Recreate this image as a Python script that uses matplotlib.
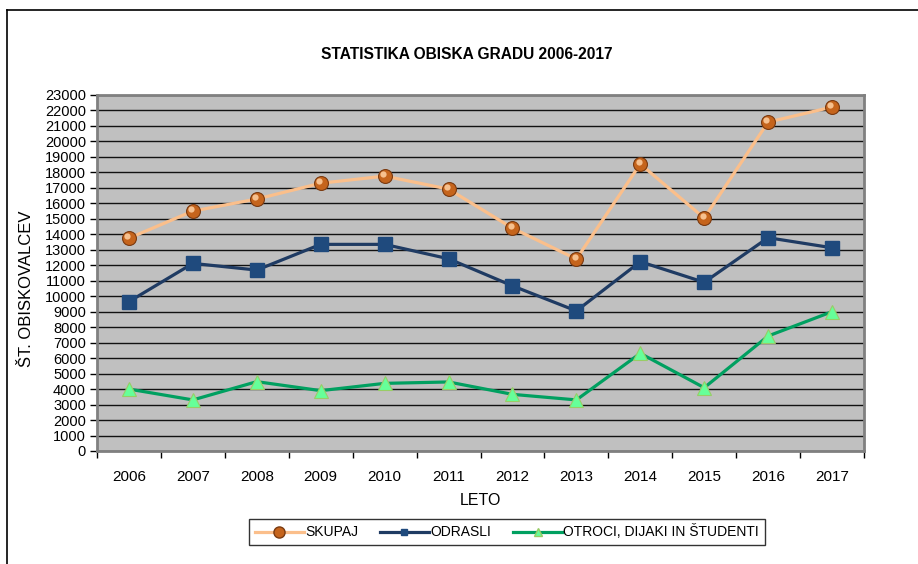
import numpy as np
import matplotlib.pyplot as plt
from matplotlib.lines import Line2D
from matplotlib.transforms import offset_copy

plt.rcParams["font.family"] = ["Liberation Sans", "DejaVu Sans"]

years = ["2006", "2007", "2008", "2009", "2010", "2011",
         "2012", "2013", "2014", "2015", "2016", "2017"]
skupaj = [13750, 15500, 16280, 17300, 17760, 16920,
          14400, 12400, 18540, 15050, 21250, 22220]
odrasli = [9650, 12120, 11690, 13350, 13350, 12420,
           10670, 9050, 12230, 10900, 13780, 13130]
otroci = [4000, 3300, 4480, 3900, 4370, 4460,
          3660, 3300, 6310, 4090, 7430, 9000]

fig = plt.figure(figsize=(9.18, 5.64), dpi=100)
ax = fig.add_axes([97 / 918, 1 - 451 / 564, (864 - 97) / 918, (451 - 95) / 564])
ax.set_facecolor("#c0c0c0")

x = np.arange(len(years))

# grid
ax.set_ylim(0, 23000)
ax.set_yticks(np.arange(0, 23001, 1000))
ax.yaxis.grid(True, color="#111111", lw=1.0)
ax.set_axisbelow(True)

# series
ax.plot(x, skupaj, color="#fbbf8b", lw=2.3, zorder=3)
ax.plot(x, skupaj, ls="none", marker="o", ms=10, mfc="#c5641c", mec="#7a3a10",
        mew=0.8, zorder=4)
hl = offset_copy(ax.transData, fig=fig, x=-1.2, y=1.5, units="points")
ax.plot(x, skupaj, ls="none", marker="o", ms=4.5, mfc="#f6c08e", mec="none",
        transform=hl, zorder=5)

ax.plot(x, odrasli, color="#1f3b63", lw=2.3, zorder=3)
ax.plot(x, odrasli, ls="none", marker="s", ms=10, mfc="#1f4a7d", mec="#1f4a7d",
        zorder=4)

ax.plot(x, otroci, color="#00a060", lw=2.3, zorder=3)
ax.plot(x, otroci, ls="none", marker="^", ms=10.5, mfc="#66ff99", mec="#99cc66",
        mew=0.8, zorder=4)

# axes
ax.set_xlim(-0.5, len(years) - 0.5)
ax.set_xticks(x)
ax.set_xticklabels(years)
ax.set_xticks(np.arange(-0.5, len(years)), minor=True)
ax.tick_params(axis="x", which="major", length=0, pad=14, labelsize=11)
ax.tick_params(axis="x", which="minor", length=5, width=1, color="black")
ax.tick_params(axis="y", length=5, width=1, color="black", pad=3, labelsize=10.5)
for s in ax.spines.values():
    s.set_color("#808080")
    s.set_linewidth(2)

ax.set_xlabel("LETO", fontsize=11.5, labelpad=6)
ax.set_ylabel("ŠT. OBISKOVALCEV", fontsize=12)
ax.yaxis.set_label_coords((34 - 97) / 767, (451 - 289) / 356)

fig.text(467 / 918, 1 - 55 / 564, "STATISTIKA OBISKA GRADU 2006-2017",
         ha="center", va="center", fontsize=11.2, fontweight="bold")

# legend
handles = [
    Line2D([], [], color="#fbbf8b", lw=2.3, marker="o", ms=8, mfc="#c5641c", mec="#7a3a10"),
    Line2D([], [], color="#1f3b63", lw=2.3, marker="s", ms=5, mfc="#1f4a7d", mec="#1f4a7d"),
    Line2D([], [], color="#00a060", lw=2.3, marker="^", ms=6, mfc="#66ff99", mec="#99cc66"),
]
leg = fig.legend(handles, ["SKUPAJ", "ODRASLI", "OTROCI, DIJAKI IN ŠTUDENTI"],
                 loc="center", bbox_to_anchor=(507 / 918, 1 - 532 / 564), ncol=3,
                 fontsize=10, frameon=True, fancybox=False, edgecolor="black",
                 handlelength=3.5, handletextpad=0.1, columnspacing=1.6,
                 borderpad=0.4)
leg.get_frame().set_linewidth(1.0)

# outer chart frame (left and top edges)
fig.add_artist(Line2D([7 / 918, 7 / 918], [0, 1 - 10 / 564], color="black", lw=1.2))
fig.add_artist(Line2D([7 / 918, 1], [1 - 10 / 564, 1 - 10 / 564], color="black", lw=1.2))

fig.savefig("out.png", dpi=100)
